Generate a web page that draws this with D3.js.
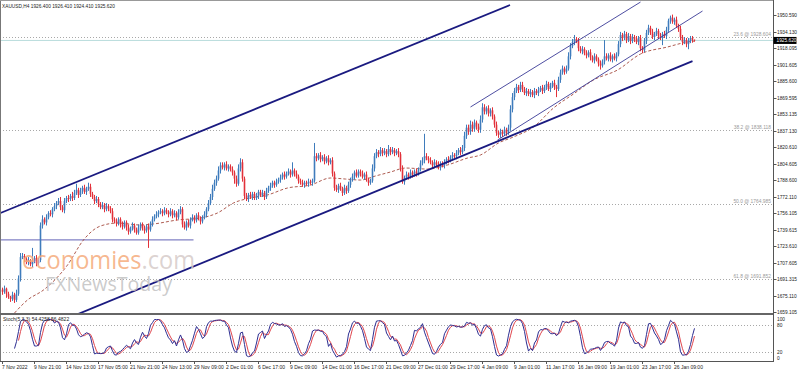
<!DOCTYPE html>
<html><head><meta charset="utf-8">
<script src="https://cdn.jsdelivr.net/npm/d3@7"></script>
<style>
body{margin:0;background:#fff;}
svg{display:block;font-family:"Liberation Sans",Arial,sans-serif;}
</style>
</head><body>
<svg id="c" width="798" height="372"></svg>
<script>
// ---------- DATA ----------
const symbolTitle = "XAUUSD,H4  1926.400 1926.410 1924.410 1925.620";
const stochTitle = "Stoch(5,3,3) 54.4258 56.4822";
const firstOpen = 1681;
const closes = [
1679,1682,1677,1674,1672,1676,1671,1677,1692,1713,
1714,1711,1708,1710,1706,1709,1712,1707,1710,1744,
1750,1747,1752,1756,1755,1760,1763,1766,1768,1762,
1759,1768,1771,1770,1773,1771,1776,1779,1774,1778,
1781,1777,1780,1782,1775,1772,1768,1770,1765,1762,
1764,1760,1763,1761,1758,1750,1748,1746,1750,1745,
1743,1747,1742,1738,1741,1744,1740,1737,1742,1745,
1741,1739,1743,1740,1746,1750,1753,1755,1757,1758,
1756,1759,1757,1755,1758,1754,1756,1752,1757,1760,
1745,1742,1747,1744,1750,1752,1749,1754,1751,1748,
1752,1755,1760,1766,1772,1780,1786,1790,1798,1803,
1801,1804,1800,1802,1799,1796,1790,1785,1800,1806,
1790,1773,1770,1774,1772,1775,1771,1773,1777,1774,
1776,1772,1778,1781,1783,1786,1784,1787,1789,1791,
1794,1792,1795,1797,1794,1798,1795,1792,1788,1786,
1784,1786,1785,1787,1786,1788,1812,1810,1813,1809,
1811,1807,1810,1806,1808,1795,1781,1779,1783,1780,
1776,1781,1778,1784,1789,1792,1796,1793,1797,1795,
1792,1794,1789,1786,1788,1800,1812,1816,1814,1818,
1815,1817,1814,1819,1816,1818,1815,1817,1814,1800,
1787,1791,1794,1792,1796,1794,1797,1795,1799,1805,
1808,1812,1810,1808,1806,1803,1806,1804,1801,1805,
1803,1806,1809,1808,1811,1813,1812,1815,1818,1816,
1820,1832,1840,1836,1843,1839,1845,1841,1838,1848,
1860,1856,1859,1854,1857,1851,1843,1835,1833,1836,
1834,1838,1835,1840,1858,1870,1876,1880,1877,1882,
1878,1874,1876,1873,1875,1872,1876,1874,1877,1879,
1876,1880,1883,1878,1881,1884,1880,1878,1887,1894,
1898,1895,1898,1910,1920,1924,1927,1925,1918,1915,
1917,1913,1911,1914,1909,1906,1910,1907,1903,1901,
1905,1910,1908,1911,1907,1910,1908,1912,1922,1931,
1928,1932,1926,1930,1925,1929,1927,1924,1928,1918,
1916,1925,1933,1938,1934,1929,1932,1935,1930,1928,
1932,1930,1936,1945,1948,1944,1946,1940,1937,1929,
1924,1926,1922,1925,1928,1926.4,1925.62];
const hiWick = [
2,3,1,2,1,3,2,4,3,4,
3,2,2,3,1,13,2,3,2,3,
4,2,3,2,3,2,3,2,3,4,
2,3,2,3,2,4,3,6,2,3,
2,3,2,4,3,2,2,3,2,2,
3,2,3,2,2,3,2,3,2,2,
3,2,2,3,2,3,2,2,3,2,
2,3,2,3,2,3,2,3,2,3,
2,3,2,2,3,2,3,2,3,3,
2,3,2,3,2,3,2,2,3,2,
2,3,2,3,3,4,3,3,4,3,
3,2,3,2,2,3,2,3,4,4,
3,2,3,2,3,2,2,3,2,2,
3,2,3,2,3,2,2,3,2,3,
2,3,2,3,2,8,2,3,2,2,
3,2,2,3,2,2,13,3,2,3,
2,3,2,3,2,3,2,3,2,3,
2,3,2,3,2,3,2,3,2,2,
3,2,3,2,2,4,3,3,2,3,
2,3,2,4,2,3,2,2,3,2,
3,2,3,2,3,2,2,3,2,3,
3,22,3,2,3,2,3,2,3,2,
2,3,2,3,2,3,2,3,2,3,
3,4,3,3,4,3,3,2,3,4,
4,3,2,3,2,3,2,3,2,3,
2,3,2,3,4,4,3,3,2,3,
3,2,3,2,3,2,3,2,3,2,
3,2,3,2,3,2,3,2,3,3,
3,2,3,4,3,3,4,2,3,2,
3,2,3,2,3,2,3,2,2,3,
2,16,3,2,3,2,3,2,3,3,
2,3,2,3,2,3,2,3,2,3,
2,3,3,3,2,3,2,3,2,3,
2,3,3,2,2,3,2,3,2,3,
2,3,2,3,2,2,0.01];
const loWick = [
3,2,4,2,3,2,3,2,2,3,
2,3,2,3,2,3,2,3,2,2,
3,2,3,2,2,3,2,3,2,3,
2,3,2,3,2,3,2,2,3,2,
3,2,3,2,3,2,3,2,3,2,
2,3,2,3,2,3,2,3,2,3,
3,2,3,3,2,2,3,2,2,3,
2,3,2,18,2,3,2,2,3,2,
3,2,2,3,2,3,2,3,2,2,
3,2,3,2,3,2,3,2,2,3,
2,2,3,2,2,3,2,3,2,3,
2,3,2,3,2,3,5,3,2,3,
3,3,2,3,2,3,2,2,3,2,
2,3,2,2,3,2,3,2,2,3,
2,3,2,2,3,2,3,2,3,2,
2,3,2,3,2,3,2,3,2,3,
2,3,2,3,2,3,3,2,3,2,
3,2,3,2,3,2,3,2,2,3,
2,3,2,3,2,2,3,2,3,2,
3,2,3,2,3,2,3,2,3,3,
2,3,2,3,2,3,2,3,2,2,
2,3,2,3,2,3,2,3,2,3,
2,3,2,3,2,3,2,3,2,3,
2,3,3,3,3,3,3,3,3,3,
3,3,3,3,3,3,3,3,3,3,
3,2,3,2,3,3,3,2,3,2,
3,2,3,2,3,2,3,2,3,2,
3,2,3,2,3,2,3,8,2,3,
2,3,2,2,3,2,3,2,3,2,
3,2,3,2,3,2,3,2,3,4,
2,3,2,3,2,3,2,3,2,3,
3,2,3,2,3,2,3,2,3,3,
3,2,3,2,3,2,3,2,3,2,
7,2,3,2,3,2,3,2,3,3,
3,2,3,5,2,3,1.21];
// moving average: [bar index, price]
const maKnots = [
[6,1658.1],[12.5,1670.9],[20.5,1680.7],[32.5,1705.2],[40.5,1729.8],[49,1743.5],
[57.5,1746.4],[69,1744.5],[75.5,1745.5],[87.5,1749.4],[99,1751.4],[107.5,1756.3],
[115.5,1766.1],[124,1771],[132.5,1774],[142.5,1780.8],[154,1783.7],[164,1790.6],
[171.5,1789.6],[179,1788.6],[186.5,1792.6],[194,1796.5],[201.5,1800.4],[212.5,1799.4],
[222.5,1803.4],[232.5,1810.2],[239,1813.2],[248,1825],[255.5,1830.9],[265.5,1840.7],
[275.5,1859.3],[285.5,1873.1],[295.5,1886.8],[307.5,1896.6],[319,1912.3],[332.5,1919.2],
[342.5,1924.1],[346,1925]];
const priceTicks = [1950.590,1934.130,1918.095,1901.605,1885.600,1869.595,1853.135,1837.130,
1820.610,1804.605,1788.600,1772.110,1756.105,1739.615,1723.610,1707.605,1691.315,1675.110,1659.105];
const timeLabels = ["7 Nov 2022","9 Nov 21:00","14 Nov 13:00","17 Nov 05:00","21 Nov 21:00",
"24 Nov 13:00","29 Nov 09:00","2 Dec 01:00","6 Dec 17:00","9 Dec 09:00","14 Dec 01:00",
"16 Dec 17:00","21 Dec 09:00","27 Dec 01:00","29 Dec 17:00","4 Jan 09:00","9 Jan 01:00",
"11 Jan 17:00","16 Jan 09:00","19 Jan 01:00","23 Jan 17:00","26 Jan 09:00"];
const fibNames = ["23.6","38.2","50.0","61.8"];
const fibPrices = [1928.604,1838.118,1764.985,1691.852];
const stochLevels = [100,80,20,0];
const stochGuides = [80,20];
const currentPrice = 1925.62;
const supportLevel = {from:-1, to:95.5, price:1729.8};
// trend/channel lines: [startIndex, startPrice, endIndex, endPrice]
const thickLines = [[-1,1756.26,253.75,1960.4],[36,1655.67,345,1905.4]];
const thinLines = [[234,1860.3,319,1963.3],[247.5,1827.9,350,1954.5]];

// ---------- DRAW ----------
const svg = d3.select("#c");
const axisX = 773.5;
const N = closes.length;
const x = d3.scaleLinear().domain([0, N-1]).range([2.5, 2.5 + 2*(N-1)]);
const y = d3.scaleLinear().domain([1659.105, 1950.59]).range([312, 15]);
const ys = d3.scaleLinear().domain([0, 100]).range([361, 316]);

const defs = svg.append("defs");
defs.append("clipPath").attr("id","cm").append("rect").attr("x",0).attr("y",0).attr("width",773).attr("height",313);
defs.append("clipPath").attr("id","cs").append("rect").attr("x",0).attr("y",315).attr("width",773).attr("height",46);

const main = svg.append("g").attr("clip-path","url(#cm)");

// fib levels
fibPrices.forEach((p,k)=>{
  main.append("line").attr("x1",0).attr("x2",773).attr("y1",Math.round(y(p))+0.5).attr("y2",Math.round(y(p))+0.5)
    .attr("stroke","#a8a8a8").attr("stroke-width",1).attr("stroke-dasharray","1,2");
  main.append("text").attr("x",771).attr("y",Math.round(y(p))-1).attr("text-anchor","end")
    .attr("font-size",4.9).attr("fill","#9a9a9a").text(fibNames[k]+" @ "+d3.format(".3f")(p));
});
// current price line
main.append("line").attr("x1",0).attr("x2",773).attr("y1",y(currentPrice)).attr("y2",y(currentPrice))
  .attr("stroke","#b9dcdc").attr("stroke-width",1);
// support horizontal line
main.append("line").attr("x1",x(supportLevel.from)).attr("x2",x(supportLevel.to))
  .attr("y1",y(supportLevel.price)).attr("y2",y(supportLevel.price))
  .attr("stroke","#8181c4").attr("stroke-width",1.3);

// moving average
main.append("path").datum(maKnots)
  .attr("d", d3.line().x(d=>x(d[0])).y(d=>y(d[1])).curve(d3.curveMonotoneX))
  .attr("fill","none").attr("stroke","#a4483c").attr("stroke-width",0.9).attr("stroke-dasharray","3,2");

// candles
const bars = closes.map((c,i)=>{
  const o = i ? closes[i-1] : firstOpen;
  return {i,o,c,h:Math.max(o,c)+hiWick[i], l:Math.min(o,c)-loWick[i]};
});
const bull = "#3f7cbc", bear = "#e2313a";
const cg = main.append("g");
cg.selectAll("line.w").data(bars).join("line").attr("class","w")
  .attr("x1",d=>x(d.i)).attr("x2",d=>x(d.i)).attr("y1",d=>y(d.h)).attr("y2",d=>y(d.l))
  .attr("stroke",d=>d.c>=d.o?bull:bear).attr("stroke-width",1);
cg.selectAll("rect.b").data(bars).join("rect").attr("class","b")
  .attr("x",d=>x(d.i)-0.8).attr("width",1.6)
  .attr("y",d=>y(Math.max(d.o,d.c))).attr("height",d=>Math.max(0.8,Math.abs(y(d.o)-y(d.c))))
  .attr("fill",d=>d.c>=d.o?bull:bear);

// channel lines
thickLines.forEach(l=>{
  main.append("line").attr("x1",x(l[0])).attr("y1",y(l[1])).attr("x2",x(l[2])).attr("y2",y(l[3]))
    .attr("stroke","#1a1a80").attr("stroke-width",1.8);
});
thinLines.forEach(l=>{
  main.append("line").attr("x1",x(l[0])).attr("y1",y(l[1])).attr("x2",x(l[2])).attr("y2",y(l[3]))
    .attr("stroke","#3a3a96").attr("stroke-width",0.9);
});

// watermark
const wm = main.append("g");
const t1 = wm.append("text").attr("x",22).attr("y",269).attr("font-size",26)
  .attr("textLength",173).attr("lengthAdjust","spacingAndGlyphs").attr("font-family","'Open Sans','Liberation Sans',sans-serif");
t1.append("tspan").attr("fill","#f5ab7c").attr("fill-opacity",0.85).text("economies");
t1.append("tspan").attr("fill","#d6cbc9").attr("fill-opacity",0.85).text(".com");
wm.append("text").attr("x",45).attr("y",291).attr("font-size",20)
  .attr("textLength",127).attr("lengthAdjust","spacingAndGlyphs")
  .attr("font-family","'Open Sans','Liberation Sans',sans-serif")
  .attr("fill","#c2c2c2").attr("fill-opacity",0.85).text("FXNewsToday");

// title
svg.append("text").attr("x",2).attr("y",7.5).attr("font-size",4.8).attr("fill","#222").text(symbolTitle);

// ---------- stochastic ----------
const num=[],den=[],K=[],D=[];
for(let i=0;i<N;i++){
  if(i>=4){
    const w = bars.slice(i-4,i+1);
    const ll = d3.min(w,d=>d.l), hh = d3.max(w,d=>d.h);
    num[i]=bars[i].c-ll; den[i]=hh-ll;
  }
  if(i>=6){
    const s1=num[i]+num[i-1]+num[i-2], s2=den[i]+den[i-1]+den[i-2];
    K[i]= s2>0 ? 100*s1/s2 : 50;
  }
  if(i>=8){ D[i]=(K[i]+K[i-1]+K[i-2])/3; }
}
const sg = svg.append("g").attr("clip-path","url(#cs)");
stochGuides.forEach(v=>{
  sg.append("line").attr("x1",0).attr("x2",773).attr("y1",Math.round(ys(v))+0.5).attr("y2",Math.round(ys(v))+0.5)
    .attr("stroke","#a8a8a8").attr("stroke-dasharray","1,2");
});
const idx = d3.range(N);
sg.append("path").datum(idx).attr("d",d3.line().defined(i=>D[i]!==undefined).x(i=>x(i)).y(i=>ys(D[i])))
  .attr("fill","none").attr("stroke","#e0454d").attr("stroke-width",1);
sg.append("path").datum(idx).attr("d",d3.line().defined(i=>K[i]!==undefined).x(i=>x(i)).y(i=>ys(K[i])))
  .attr("fill","none").attr("stroke","#2e2e92").attr("stroke-width",1);
svg.append("text").attr("x",3).attr("y",321).attr("font-size",5).attr("fill","#222").text(stochTitle);

// ---------- frame ----------
svg.append("line").attr("x1",0.5).attr("x2",0.5).attr("y1",0).attr("y2",362).attr("stroke","#777");
svg.append("line").attr("x1",0).attr("x2",axisX).attr("y1",0.5).attr("y2",0.5).attr("stroke","#999");
svg.append("rect").attr("x",0).attr("y",313).attr("width",axisX).attr("height",2).attr("fill","#666");
svg.append("line").attr("x1",0).attr("x2",axisX).attr("y1",361.5).attr("y2",361.5).attr("stroke","#555");
svg.append("line").attr("x1",axisX).attr("x2",axisX).attr("y1",0).attr("y2",362).attr("stroke","#555");

// right price axis
const ra = svg.append("g");
priceTicks.forEach(p=>{
  const yy = Math.round(y(p))+0.5;
  ra.append("line").attr("x1",axisX).attr("x2",axisX+3).attr("y1",yy).attr("y2",yy).attr("stroke","#555");
  ra.append("text").attr("x",777).attr("y",yy+1.7).attr("font-size",4.8).attr("fill","#222").text(d3.format(".3f")(p));
});
// current price tag
const cy = y(currentPrice);
ra.append("rect").attr("x",axisX).attr("y",cy-3.5).attr("width",23).attr("height",7).attr("fill","#000");
ra.append("text").attr("x",776.5).attr("y",cy+1.7).attr("font-size",4.8).attr("fill","#fff").text(d3.format(".3f")(currentPrice));

// stoch axis labels
stochLevels.forEach(v=>{
  const yy = Math.min(358, Math.max(319.5, ys(v)));
  svg.append("text").attr("x",777).attr("y",yy+1.7).attr("font-size",4.8).attr("fill","#222").text(v);
});

// bottom time axis
timeLabels.forEach((t,k)=>{
  const xx = x(16*k);
  svg.append("line").attr("x1",xx).attr("x2",xx).attr("y1",362).attr("y2",364).attr("stroke","#555");
  svg.append("text").attr("x",xx-0.5).attr("y",369).attr("font-size",5).attr("fill","#222").text(t);
});
</script>
</body></html>
